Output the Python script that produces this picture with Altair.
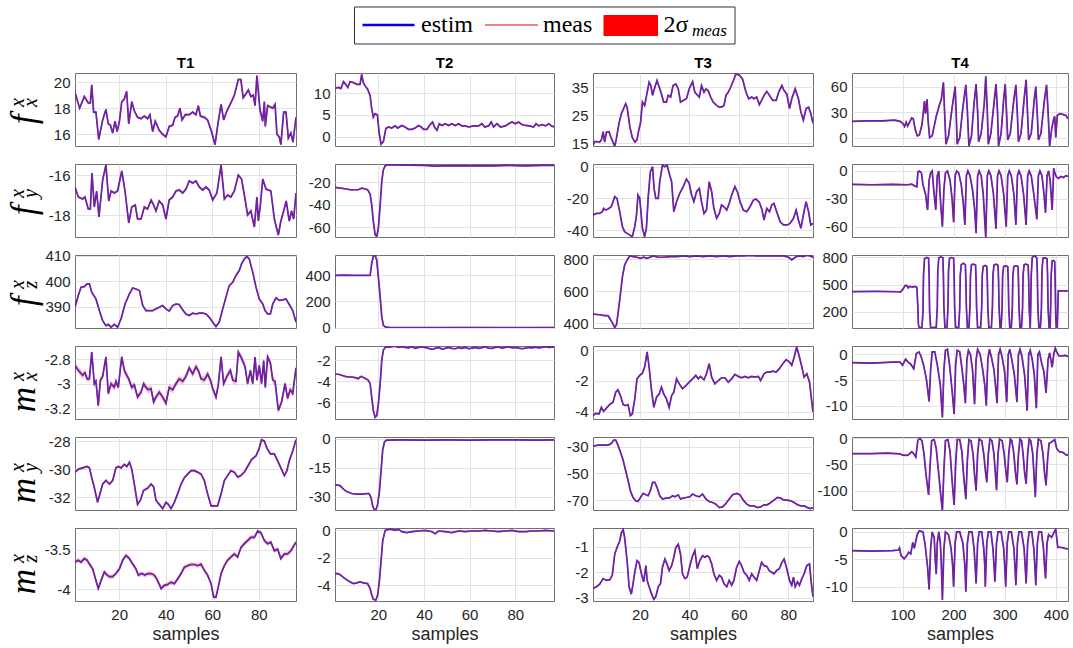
import altair as alt
import pandas as pd

TRIALS = ["T1", "T2", "T3", "T4"]
QUANTS = ["fx", "fy", "fz", "mx", "my", "mz"]

# ---------------- T1 ----------------
T1_FX = [(1,19.2),(3,18.0),(5,18.9),(6.7,18.4),(7.6,18.4),(8.2,19.8),(9,17.7),(10,17.7),(11.2,15.6),(12.9,17.1),(14.3,17.9),(15.3,16.8),(16.2,16.7),(17.2,16.1),(18.2,17.0),(19.1,16.2),(20.1,17.0),(21.1,18.5),(22.2,18.7),(23.2,19.3),(24.1,16.8),(25.4,18.5),(26.5,17.8),(27.9,17.3),(29.4,17.2),(30.8,17.4),(32.2,17.2),(33.2,17.5),(34.4,16.2),(35.5,17.0),(37.2,16.3),(38.7,16.0),(40.1,15.8),(41.5,16.6),(43,16.7),(44,17.3),(45.1,17.4),(46.1,18.0),(47,17.1),(48.4,17.5),(50.1,17.5),(51.6,17.7),(53,17.5),(54,18.2),(54.9,17.4),(56.6,17.3),(58,17.1),(59.5,16.3),(61.2,15.2),(62.6,17.0),(63.8,18.3),(64.9,17.1),(66.3,17.8),(68,18.4),(69.5,19.0),(71.2,20.2),(72.3,20.2),(73.3,18.8),(74.5,19.1),(75.5,19.4),(76.6,18.9),(77.6,19.0),(78.4,18.2),(79.2,20.5),(80.5,17.9),(81.7,17.0),(82.4,18.5),(82.8,16.6),(83.8,18.2),(86,18.0),(87,18.3),(87.8,16.0),(88.8,15.8),(89.5,15.2),(90.7,17.7),(91.7,17.7),(92.7,15.7),(93.8,16.1),(94.7,15.4),(96,17.3)]
T1_FY = [(1,-16.6),(2.4,-17.1),(4.3,-17.2),(5.3,-17.1),(6.7,-17.7),(7.6,-17.7),(8.3,-15.9),(9.3,-17.6),(10.3,-16.8),(11.3,-18.1),(12.9,-16.25),(14.3,-15.5),(15.5,-17.3),(16.5,-16.8),(17.9,-16.9),(19.3,-16.8),(21.1,-15.8),(22.5,-16.8),(24.1,-18.4),(25.4,-17.6),(26.9,-17.5),(27.9,-18.2),(29.4,-18.2),(30.8,-17.6),(32.2,-17.7),(33.7,-17.25),(34.8,-17.5),(35.8,-17.8),(37.2,-17.3),(38.7,-17.5),(40.1,-18.2),(41.5,-17.25),(43,-17.1),(44.4,-16.8),(45.8,-16.75),(47.3,-16.9),(48.7,-16.7),(50.1,-16.3),(51.6,-16.4),(53,-16.3),(54.4,-16.6),(55.9,-16.75),(57.3,-16.6),(58.7,-16.75),(60.2,-17.25),(62,-16.9),(63.8,-15.5),(65.2,-17.2),(66.6,-17.0),(68,-17.1),(69.5,-16.8),(71.2,-16.0),(72.6,-16.2),(73.8,-17.0),(75.2,-18.0),(76.6,-17.8),(78.1,-18.6),(79.2,-17.1),(79.8,-18.3),(80.7,-17.5),(81.7,-16.2),(83.1,-16.7),(85.2,-16.8),(86.7,-18.2),(88.4,-19.0),(89.5,-18.3),(90.7,-17.8),(91.8,-17.3),(93.1,-18.3),(94.1,-17.8),(95,-18.2),(96,-16.9)]
T1_FZ = [(1,389.7),(2.4,394.3),(3.6,397.6),(5,397.8),(6.2,398.9),(7.2,398.9),(8.2,395.6),(10,393.0),(11.5,388.4),(12.9,384.5),(14.3,382.5),(15.3,383),(16.5,381.9),(17.9,383),(19.3,381.9),(20.8,385.2),(22.5,391),(24.4,395),(25.8,397.3),(27.2,396.9),(28.7,396.3),(30.1,390.4),(31.5,388.4),(33,388.4),(34.4,388.4),(35.8,389.1),(37.2,389.7),(38.7,390.4),(40.1,389.1),(41.5,388.2),(43,390.4),(44.4,391),(45.8,390.8),(47.3,388.7),(48.7,387.1),(50.1,386.5),(51.6,387.4),(53,387.1),(54.4,387.4),(55.9,387.4),(57.3,387.1),(58.7,385.8),(60.2,383.9),(61.6,382.2),(63,383.9),(64.5,389.1),(65.9,393.7),(67.3,398.2),(68.8,399.5),(70.2,402.2),(71.6,404.1),(72.6,406.7),(73.8,408.7),(74.9,409.6),(75.9,408.7),(77.4,403.5),(78.8,397.6),(80.2,393),(81.7,391),(82.7,388.4),(83.8,387.1),(85,387.1),(86,391),(87.4,393.4),(88.8,392.4),(90.3,392.6),(91.7,393),(93.1,390.8),(94.6,388.4),(96,383.9)]
T1_MX = [(1,-2.85),(2.4,-2.89),(4.3,-2.93),(5.3,-2.91),(6.2,-2.96),(7.2,-2.96),(8.2,-2.74),(9.3,-3.0),(10,-2.98),(11,-3.18),(11.9,-2.97),(12.9,-2.94),(14.3,-2.78),(15.3,-3.08),(16.5,-3.0),(17.9,-3.03),(18.6,-2.98),(19.6,-3.03),(21.1,-2.78),(22.2,-2.89),(23.2,-2.93),(24.1,-2.96),(25.4,-3.03),(26.5,-3.01),(27.9,-3.11),(29.4,-3.07),(30.5,-3.0),(31.5,-3.03),(32.5,-3.05),(33.7,-3.04),(34.8,-3.15),(35.8,-3.11),(37.2,-3.07),(38.7,-3.11),(40.1,-3.16),(41.5,-3.03),(43,-3.05),(44.4,-3.0),(45.8,-2.96),(47.3,-2.98),(48.7,-2.94),(50.1,-2.87),(51.6,-2.92),(53,-2.86),(54,-2.89),(55.2,-2.96),(56.6,-2.97),(58,-2.92),(59.2,-2.97),(60.2,-3.04),(61.6,-3.11),(62.6,-3.01),(63.8,-2.78),(64.9,-3.0),(66.3,-2.94),(67.8,-2.89),(68.8,-2.97),(70.2,-2.98),(71.2,-2.74),(72.6,-2.79),(74.1,-2.86),(75.2,-3.0),(76.4,-2.89),(77.4,-3.0),(78.4,-2.78),(79.2,-2.97),(80.2,-2.85),(81.2,-3.0),(82.1,-2.81),(82.8,-3.03),(83.8,-2.78),(85,-2.83),(86,-2.97),(87,-2.98),(88.4,-3.22),(89.8,-3.15),(91.3,-3.0),(92.4,-3.12),(93.5,-3.05),(94.6,-3.08),(96,-2.87)]
T1_MY = [(1,-30.2),(2.4,-30.0),(4.3,-29.9),(6.2,-29.8),(7.2,-29.9),(8.2,-30.6),(9.3,-31.3),(10.7,-32.35),(11.9,-31.65),(12.9,-31.05),(14.3,-30.8),(15.8,-31.05),(17.2,-30.8),(18.6,-29.9),(19.6,-29.8),(20.8,-29.9),(22.2,-29.65),(23.3,-29.8),(24.4,-29.5),(25.4,-30.0),(26.5,-31.05),(27.9,-32.5),(29.1,-32.2),(30.5,-31.5),(32.2,-31.35),(33.7,-31.05),(34.8,-31.25),(35.8,-32.2),(37.2,-32.5),(38.7,-32.8),(40.1,-32.35),(41.1,-32.5),(42.3,-32.8),(43.7,-32.35),(45.1,-31.75),(46.6,-31.05),(48,-30.6),(49.4,-30.35),(50.9,-30.1),(52.3,-30.1),(53.7,-30.2),(55.2,-30.35),(56.6,-30.8),(58,-31.75),(59.5,-32.6),(60.9,-32.6),(62.3,-32.6),(63.8,-31.75),(65.2,-30.8),(66.6,-30.45),(68,-30.1),(69.5,-30.2),(70.9,-30.55),(72.3,-30.45),(73.8,-30.2),(75.2,-29.8),(76.9,-29.3),(78.8,-29.05),(80.2,-28.5),(81.2,-27.9),(82.4,-28.0),(83.5,-28.5),(85,-28.9),(86.7,-28.9),(88.1,-29.4),(89.5,-29.9),(91,-30.45),(92.1,-30.1),(93.1,-29.4),(94.6,-28.7),(96,-27.9)]
T1_MZ = [(1,-3.655),(2.4,-3.63),(3.6,-3.655),(5,-3.61),(6.2,-3.63),(7.2,-3.68),(8.6,-3.74),(10,-3.89),(11,-3.99),(12.2,-3.89),(13.6,-3.78),(14.8,-3.82),(15.8,-3.84),(17.2,-3.84),(18.6,-3.8),(20.1,-3.74),(21.5,-3.63),(22.9,-3.57),(24.4,-3.61),(25.8,-3.68),(27.2,-3.74),(28.2,-3.82),(29.7,-3.8),(31.1,-3.82),(32.2,-3.8),(33.7,-3.8),(35.1,-3.82),(36.5,-3.89),(38,-3.99),(39.4,-3.95),(40.8,-3.94),(42.3,-3.91),(43.7,-3.93),(45.1,-3.87),(46.6,-3.8),(48,-3.72),(49.4,-3.7),(50.9,-3.685),(52.3,-3.685),(53.7,-3.7),(55.2,-3.68),(56.6,-3.76),(58,-3.82),(59.5,-3.93),(60.6,-4.1),(61.6,-4.1),(62.6,-3.97),(63.8,-3.8),(65.2,-3.7),(66.6,-3.63),(68,-3.59),(69.5,-3.55),(70.9,-3.59),(72.3,-3.47),(73.8,-3.42),(75.2,-3.38),(76.6,-3.34),(78.1,-3.34),(79.5,-3.26),(80.9,-3.28),(82.4,-3.38),(83.8,-3.42),(85.2,-3.4),(86.7,-3.51),(88.1,-3.49),(89.5,-3.61),(91,-3.55),(92.4,-3.55),(93.8,-3.51),(96,-3.4)]

# ---------------- T2 ----------------
T2_FX = [(1,11.1),(2.5,11.3),(3.6,11.05),(4.7,12.6),(5.7,12.0),(6.6,11.3),(7.6,12.6),(9.1,12.4),(10.5,12.0),(12,12.0),(12.7,14.3),(13.4,12.4),(14.2,11.65),(15.3,10.9),(16.4,9.4),(17.1,6.4),(17.8,4.5),(18.6,5.3),(19.6,5.0),(20.3,1.1),(21.2,-1.7),(22.2,-1.1),(23.3,1.9),(24.4,2.25),(25.9,2.0),(27.4,2.5),(28.5,2.0),(30.3,2.6),(31.7,2.25),(33.2,1.7),(34.7,1.7),(36.1,2.0),(37.6,2.6),(38.8,2.25),(39.8,1.7),(41.3,1.7),(42.7,2.8),(43.8,3.4),(44.6,2.25),(45.7,1.5),(46.7,3.0),(47.9,2.6),(49.3,3.0),(50.8,2.6),(52.2,3.0),(53.7,2.6),(55.2,3.0),(56.6,2.5),(58.1,2.5),(59.6,2.25),(61.8,2.5),(64,2.5),(65.4,3.0),(66.6,2.25),(68.3,2.5),(69.5,3.4),(70.5,2.25),(72,3.0),(73.5,2.25),(75.7,2.5),(77.1,3.0),(78.6,3.4),(80.1,3.0),(81.5,3.4),(83,2.8),(84.5,2.6),(86.2,2.5),(88.1,2.25),(89.1,3.0),(90.3,2.5),(91.8,2.8),(93.2,2.5),(94.7,3.0),(95.9,2.5),(97,2.25)]
T2_FY = [(1,-24.4),(3.2,-25.0),(5.4,-25.6),(7.6,-26.5),(9.8,-26.5),(11.2,-26.5),(12.7,-25.0),(13.9,-25.6),(15.3,-26.5),(16.4,-30.4),(17.1,-40),(17.8,-54.7),(18.6,-66.5),(19.3,-68),(20,-60.6),(20.8,-40),(21.5,-19.1),(22.2,-8.7),(23,-5.2),(24.4,-4.3),(27.4,-4.3),(33.2,-4.6),(40.5,-4.9),(44.9,-5.5),(47.9,-5.2),(55.2,-5.2),(62.5,-5.2),(69.8,-5.2),(77.1,-4.9),(84.5,-5.2),(91.8,-4.9),(97,-4.9)]
T2_FZ = [(1,400),(5,401),(10,399),(14,400),(16.4,400),(17.1,490),(17.8,546),(18.6,553),(19.3,515),(20,388),(20.8,235),(21.5,82),(22.2,18),(23,5),(25,1),(40,0),(60,1),(80,0),(97,1)]
T2_MX = [(1,-3.34),(2.5,-3.34),(3.9,-3.44),(5.4,-3.54),(6.9,-3.6),(8.3,-3.6),(9.8,-3.66),(11.2,-3.76),(12,-3.6),(12.7,-3.54),(13.4,-3.66),(14.5,-3.76),(15.6,-3.92),(16.4,-4.24),(17.1,-5.52),(17.8,-6.8),(18.6,-7.44),(19.3,-7.28),(20,-6.16),(20.8,-4.24),(21.5,-2.0),(22.2,-1.04),(23.3,-0.72),(24.4,-0.78),(25.9,-0.72),(27.4,-0.66),(28.8,-0.78),(30.3,-0.72),(31.7,-0.78),(33.2,-0.82),(34.7,-0.72),(36.1,-0.88),(37.6,-0.78),(39.1,-0.72),(40.5,-0.78),(42,-0.88),(43.5,-0.98),(44.9,-0.88),(46.4,-0.78),(47.9,-0.94),(49.3,-0.88),(50.8,-0.78),(52.2,-0.88),(53.7,-0.91),(55.2,-0.82),(56.6,-0.88),(58.1,-0.78),(59.6,-0.91),(61,-0.85),(62.5,-0.78),(64,-0.88),(65.4,-0.82),(66.9,-0.72),(68.3,-0.85),(69.8,-0.88),(71.3,-0.78),(72.7,-0.75),(74.2,-0.85),(75.7,-0.78),(77.1,-0.72),(78.6,-0.82),(80.1,-0.78),(81.5,-0.85),(83,-0.91),(84.5,-0.85),(85.9,-0.78),(87.4,-0.82),(88.8,-0.75),(90.3,-0.82),(91.8,-0.78),(93.2,-0.72),(94.7,-0.78),(97,-0.75)]
T2_MY = [(1,-23.7),(3.2,-24.2),(4.7,-26),(6.1,-27.2),(8.3,-28.3),(10.5,-28.6),(12.7,-28.6),(14.9,-28.3),(15.9,-28.3),(16.8,-30.4),(17.5,-34.7),(18.3,-36.8),(19,-36.5),(19.7,-33.8),(20.5,-26.9),(21.2,-16.4),(21.9,-5.9),(22.7,-1.6),(23.7,-0.7),(30,-0.6),(40,-0.7),(50,-0.6),(60,-0.7),(70,-0.6),(80,-0.6),(90,-0.7),(97,-0.6)]
T2_MZ = [(1,-3.16),(2.5,-3.16),(3.6,-3.28),(5.4,-3.52),(7.6,-3.76),(9.1,-3.88),(10.5,-3.83),(12,-3.76),(13.4,-3.83),(15.3,-3.88),(16.4,-4.24),(17.1,-4.72),(17.8,-5.03),(18.9,-5.08),(19.7,-4.72),(20.5,-3.64),(21.2,-2.2),(21.9,-0.77),(23,0),(24.4,0.07),(25.9,0.07),(27.4,0),(28.8,0.07),(30.3,-0.1),(32.5,-0.17),(34.7,-0.1),(37.6,-0.05),(40.5,0),(43.5,-0.1),(44.9,-0.24),(46.4,-0.05),(49.3,-0.1),(52.2,-0.17),(55.2,-0.05),(58.1,-0.1),(61,-0.05),(64,-0.05),(66.9,0),(69.8,-0.05),(72.7,-0.1),(75.7,-0.05),(78.6,0),(81.5,-0.1),(84.5,-0.1),(87.4,-0.05),(90.3,-0.05),(93.2,0),(97,-0.05)]

# ---------------- T3 ----------------
T3_FX = [(1,14.2),(1.7,15.6),(2.6,15.6),(3.7,15.4),(4.4,16.2),(5.1,19.1),(5.7,15.4),(6.4,18.9),(7.5,19.1),(8.4,16.8),(9.1,15.4),(9.8,13.8),(10.5,16.8),(11.5,22.1),(12.5,25.6),(13.4,27.4),(14.2,29.1),(14.8,27.9),(15.9,20.9),(16.9,17.0),(18,15.4),(18.8,16.2),(19.6,20.1),(20.2,22.1),(21,29.7),(21.9,28.5),(22.9,33.2),(23.7,36.8),(24.4,35.6),(25.1,32.1),(26,35),(26.9,37.4),(27.8,35),(28.7,32.6),(29.6,29.7),(30.7,29.7),(31.4,32.1),(32.4,31.5),(33.4,35.6),(34.5,36.2),(35.5,34.4),(36.4,29.7),(37.5,30.3),(38.8,30.9),(39.9,34.4),(41.3,37),(42.2,33.2),(43.2,32.3),(44,31.5),(44.9,35.6),(45.9,33.2),(46.7,34.4),(47.6,33.8),(48.6,31.5),(49.6,29.7),(51,28.5),(52.1,27.9),(53,27.9),(54,28.5),(54.8,32.1),(55.7,33.2),(56.7,35),(57.8,37.4),(58.8,39.7),(60.2,39.4),(61.5,37.9),(62.9,33.2),(64,30.9),(65.2,31.5),(66.1,30.9),(67.2,31.5),(68.3,28.8),(69.2,30.3),(70.2,32.1),(71.3,33.5),(72.4,32.1),(73.7,30.3),(75.1,30.3),(76.1,33.2),(77.4,35.6),(78.3,33.8),(79.4,32.6),(80.5,27.4),(81.4,30.9),(82.8,34.4),(84.1,30.9),(85.1,26.2),(86.1,23.2),(87.2,27.4),(88.2,27.9),(89.1,25.6),(90,22.1)]
T3_FY = [(1,-30.5),(2.4,-29.5),(3.7,-29.5),(4.8,-28.4),(5.3,-26.3),(6.1,-27.4),(7.1,-26.7),(8.4,-25.3),(9.8,-18.9),(10.7,-20),(11.8,-28.4),(12.9,-37.9),(13.8,-41),(14.8,-42.1),(15.9,-43.2),(16.9,-44.2),(17.9,-37.9),(18.6,-30.5),(19.2,-17.9),(19.9,-20),(21,-38.9),(21.9,-44.2),(22.6,-38.9),(23.3,-20),(24.2,-3.2),(25.1,0),(25.7,-13.7),(26.4,-20),(27.4,-20),(28,-9.5),(29.1,1.0),(30.1,0),(31,1.0),(31.8,-4.2),(32.8,-9.5),(33.7,-28.4),(34.8,-22.1),(36.1,-16.8),(37.5,-12.6),(38.8,-7.8),(39.9,-10.5),(40.9,-17.9),(41.8,-22.1),(42.9,-15.8),(44,-13.7),(44.9,-22.1),(45.9,-29.5),(46.9,-27.4),(48,-9.5),(49,-15.8),(49.9,-26.3),(51,-32.6),(52.1,-29.5),(53,-24.2),(54,-25.3),(55.1,-27.4),(56.1,-23.2),(57.1,-17.9),(58.4,-12.6),(59.4,-15.8),(60.5,-22.1),(61.8,-27.4),(63.2,-28.4),(64.5,-25.3),(65.9,-21.1),(66.9,-20.4),(68.3,-22.5),(69.4,-27.4),(70.2,-33.7),(71.3,-26.3),(72.4,-28.4),(73.3,-24.2),(74.2,-23.2),(75.3,-28.4),(76.7,-34.7),(78,-36.8),(79.6,-36.8),(80.7,-35.8),(82.1,-32.6),(83.2,-27.4),(84.1,-33.7),(85.1,-38.9),(86.1,-30.5),(87.2,-22.1),(88.2,-28.4),(89.1,-36.8),(90,-35.8)]
T3_FZ = [(1,457),(3.7,453),(5.7,447),(7.1,447),(8,425),(9.1,394),(9.8,373),(10.5,390),(11.1,457),(12.1,584),(12.9,690),(13.8,764),(14.8,796),(15.9,821),(17.2,817),(18.8,813),(20.2,806),(21.5,813),(22.9,806),(24,813),(25.3,821),(27.4,813),(29.4,813),(32.1,817),(34.8,817),(37.5,821),(40.2,817),(42.9,821),(45.6,817),(48.3,821),(51,817),(53.7,821),(56.4,817),(59.1,821),(61.8,821),(64.5,825),(67.2,821),(69.9,821),(72.6,821),(75.3,821),(78,821),(80.1,813),(81.4,796),(82.8,813),(84.1,821),(86.1,817),(87.5,825),(88.8,821),(90,813)]
T3_MX = [(1,-4.26),(2.1,-4.11),(3.4,-4.15),(4.4,-3.72),(5.3,-3.98),(6.7,-3.72),(8,-3.5),(9.1,-3.39),(10.2,-2.73),(11.1,-2.58),(12.1,-2.95),(13.2,-3.54),(14.2,-3.61),(15.2,-3.54),(16.1,-4.26),(16.9,-4.15),(17.9,-3.17),(18.8,-1.86),(19.9,-1.64),(21,-1.49),(21.9,-1.09),(22.9,-0.11),(23.7,-1.09),(24.6,-2.51),(25.6,-3.72),(26.7,-3.06),(27.8,-2.84),(28.7,-2.4),(29.6,-2.84),(30.7,-3.17),(31.8,-3.72),(32.8,-2.95),(33.7,-2.73),(34.8,-1.86),(35.9,-2.19),(37.2,-2.51),(38.6,-2.3),(39.9,-2.08),(41.3,-1.86),(42.6,-1.64),(43.6,-1.86),(44.5,-1.7),(45.9,-1.92),(46.9,-1.53),(48,-0.87),(49,-1.75),(50.3,-2.19),(51.7,-1.97),(53,-1.79),(54.4,-1.79),(55.7,-2.08),(57.1,-1.86),(58.4,-1.57),(59.8,-1.7),(61.1,-1.79),(62.5,-1.7),(63.8,-1.79),(65.2,-1.7),(66.5,-1.75),(67.9,-1.7),(68.8,-1.97),(70.2,-1.53),(71.3,-1.42),(72.6,-1.42),(73.7,-1.36),(75.1,-1.42),(76.4,-1.2),(77.8,-0.87),(79.1,-0.61),(80.5,-0.77),(81.4,-0.98),(82.4,-0.44),(83.4,0.22),(84.5,-0.44),(85.5,-1.09),(86.4,-1.75),(87.5,-1.53),(88.6,-2.08),(90,-4.04)]
T3_MY = [(1,-29.5),(3,-28.7),(5.1,-28.7),(7.1,-28.7),(8.4,-27.5),(9.4,-24.9),(10.2,-24.9),(11.1,-28.7),(12.1,-33.8),(13.2,-40.1),(14.2,-47.7),(15.2,-55.3),(16.1,-62.9),(17.2,-68),(18.3,-70.5),(19.2,-71),(20.2,-68),(21.3,-64.9),(22.4,-66),(23.3,-66.7),(24.2,-62.9),(25.1,-56.6),(26,-56.6),(26.9,-60.4),(28,-66.7),(29.1,-69.2),(30.5,-68.5),(31.8,-68.5),(33.2,-66.7),(34.1,-67.5),(35.5,-66),(36.4,-69.2),(37.5,-68.5),(38.8,-68),(40.2,-67.5),(41.3,-65.4),(42.6,-66.7),(44,-67.5),(45.3,-65.4),(46.7,-69.2),(48,-71),(49.4,-71.8),(50.7,-73),(52.1,-75.6),(53.4,-75.1),(54.8,-72.5),(56.1,-69.2),(57.5,-66),(59.1,-64.9),(60.5,-66),(61.8,-70),(63.2,-73),(64.5,-74.3),(66.1,-74.3),(67.5,-75.6),(68.8,-75.1),(70.2,-73.5),(71.5,-73.5),(72.9,-71.8),(74.2,-70),(75.6,-68),(76.9,-68.5),(78.3,-70),(79.6,-70),(81,-70.5),(82.4,-71.8),(83.7,-73.5),(85.1,-74.3),(86.4,-74.3),(87.8,-75.6),(89.1,-76.3),(90,-75.6)]
T3_MZ = [(1,-2.64),(2.4,-2.57),(3.7,-2.47),(5.1,-2.25),(6.4,-2.32),(7.8,-2.29),(8.8,-2.12),(9.8,-1.28),(10.7,-1.03),(11.8,-0.77),(12.5,-0.45),(13.2,-0.32),(13.8,-0.64),(14.8,-1.54),(15.6,-2.57),(16.5,-2.86),(17.2,-2.45),(17.9,-2.0),(18.8,-1.54),(19.6,-1.61),(20.6,-2.06),(21.5,-2.38),(22.4,-1.74),(22.9,-2.32),(23.7,-2.57),(24.6,-2.83),(25.6,-3.06),(26.4,-2.96),(27.4,-2.57),(28.3,-2.45),(29.1,-1.8),(30.1,-1.48),(31,-1.7),(31.8,-1.93),(32.8,-1.74),(33.7,-1.41),(34.5,-1.03),(35.5,-0.9),(36.4,-1.28),(37.2,-2.06),(38.2,-2.25),(39.1,-2.19),(40.2,-1.74),(41.3,-1.35),(42.2,-1.15),(43.2,-1.86),(44.2,-1.54),(45.3,-1.35),(46.3,-1.41),(47.2,-1.35),(48,-1.41),(49,-1.67),(49.9,-2.06),(51,-2.32),(52.1,-2.12),(53,-2.19),(54,-2.45),(55.1,-2.57),(56.1,-2.32),(57.1,-2.51),(58,-2.32),(59.1,-1.8),(60.2,-1.57),(61.1,-1.74),(62.1,-2.0),(63.2,-2.12),(64.2,-2.32),(65.2,-2.06),(66.1,-2.19),(67.2,-2.32),(68.3,-1.93),(69.2,-1.61),(70.2,-1.74),(71.3,-1.77),(72.4,-1.95),(73.3,-2.0),(74.2,-2.06),(75.3,-1.93),(76.4,-1.86),(77.4,-1.61),(78.3,-1.48),(79.4,-1.86),(80.5,-2.32),(81.4,-2.51),(82.1,-2.19),(82.8,-2.57),(83.7,-2.38),(84.5,-2.51),(85.5,-2.25),(86.4,-2.06),(87.5,-1.74),(88.6,-1.67),(89.2,-2.32),(90,-2.96)]

# ---------------- T4 ----------------
T4_FX = [(1,19),(30,19.5),(60,19.5),(85,20.5),(95,19),(100,17),(104,13),(107,18),(110,13.5),(114,18.5),(118,23),(121,22),(125,9),(129,2),(133,3),(138,15),(143,43),(145,28),(148,45),(150,20),(153,0),(158,2),(166,25),(172,38),(176,45),(180,65),(183,20),(185,-8),(190,2),(197,35),(203,60),(205,30),(207,-8),(212,0),(218,35),(224,62),(227,30),(230,-10),(235,2),(240,40),(244,63),(247,30),(249,-5),(254,5),(260,40),(263,72),(266,30),(268,-8),(273,5),(279,40),(283,63),(286,30),(288,-10),(293,5),(298,45),(301,63),(304,25),(306,-3),(311,5),(318,45),(322,62),(325,25),(327,-5),(332,5),(338,45),(342,68),(345,25),(347,-3),(352,5),(358,45),(361,60),(364,25),(366,-3),(371,5),(378,45),(382,62),(385,30),(388,-10),(392,10),(396,22),(398,25),(400,0),(403,26),(408,28),(415,27),(420,26),(424,22)]
T4_FY = [(1,-14.5),(40,-14.8),(80,-14.5),(110,-14.8),(118,-14.2),(125,-16.5),(128,-17),(130,-1),(133,0),(137,-2),(140,-15),(145,-25),(149,-42),(152,-10),(155,-2),(158,0),(161,-20),(165,-42),(168,-5),(171,0),(174,-30),(178,-60),(181,-20),(184,-2),(188,0),(193,-10),(197,-30),(200,-55),(203,-5),(206,0),(210,-2),(215,-15),(219,-35),(222,-58),(225,-5),(228,0),(232,-5),(237,-20),(241,-40),(244,-67),(247,-5),(250,0),(254,-5),(258,-25),(263,-72),(266,-5),(269,0),(273,-5),(278,-25),(283,-62),(286,-5),(289,0),(293,-5),(298,-25),(303,-60),(306,-5),(309,0),(313,-5),(318,-25),(322,-58),(325,-5),(328,0),(332,-5),(337,-25),(342,-58),(345,-5),(348,0),(352,-5),(357,-25),(363,-52),(366,-5),(369,0),(373,-5),(377,-25),(380,-45),(383,-5),(386,0),(389,-10),(393,-42),(396,3),(398,-2),(401,-6),(405,-8),(410,-6),(415,-7),(420,-5),(424,-6)]
T4_FZ = [(1,423),(50,424),(92,421),(96,418),(101,452),(105,488),(108,490),(111,464),(114,480),(120,472),(124,480),(128,470),(130,250),(131,60),(133,22),(138,30),(140,200),(141,600),(143,785),(147,800),(151,790),(152,600),(153,200),(155,22),(166,30),(168,250),(169,650),(171,795),(175,805),(179,795),(180,600),(181,250),(183,22),(187,30),(189,250),(190,650),(192,790),(196,798),(200,790),(201,600),(202,250),(204,22),(210,30),(212,250),(213,600),(215,720),(219,735),(223,720),(224,550),(225,250),(227,22),(230,30),(232,250),(233,600),(235,720),(239,725),(243,715),(244,550),(245,250),(247,22),(253,30),(255,250),(256,600),(258,700),(262,710),(265,700),(266,550),(267,250),(269,22),(274,30),(276,250),(277,600),(279,715),(283,725),(287,712),(288,550),(289,250),(291,22),(293,30),(295,250),(296,600),(298,700),(302,705),(306,698),(307,550),(308,250),(310,22),(313,30),(315,250),(316,600),(318,700),(322,705),(326,700),(327,550),(328,250),(330,22),(333,30),(335,250),(336,600),(338,720),(342,725),(346,715),(347,550),(348,250),(350,22),(351,250),(352,600),(354,800),(359,820),(363,790),(364,600),(365,250),(367,22),(370,30),(372,250),(373,650),(375,790),(379,795),(383,785),(384,600),(385,250),(387,22),(389,30),(390,250),(391,600),(393,760),(396,765),(398,750),(399,500),(400,150),(401,22),(403,25),(405,430),(412,432),(418,428),(424,432)]
T4_MX = [(1,-1.6),(40,-1.7),(80,-1.5),(95,-1.5),(100,-2.1),(106,-0.9),(110,-1.4),(116,-1.9),(122,-2.8),(127,0.2),(132,0.5),(136,-0.3),(141,-2),(147,-5),(152,-9.2),(155,-3),(158,0.5),(163,0.5),(168,-2),(174,-6),(178,-12.3),(181,-3),(184,0.8),(188,1),(192,-2),(197,-7),(201,-11.6),(204,-2),(207,0.8),(212,0.5),(216,-2.5),(220,-6),(223,-9.5),(226,-1),(229,0.8),(233,0),(237,-3),(241,-9.7),(244,-1),(247,1),(252,0),(257,-3),(261,-6),(264,-10),(267,-1),(270,1),(274,-0.5),(279,-3),(282,-6),(285,-9.5),(288,0),(291,1),(295,-0.5),(300,-3.5),(304,-9.3),(307,0),(310,1),(314,-1),(319,-4),(324,-9.3),(327,0),(330,1),(334,-0.5),(339,-4),(344,-11),(347,0),(350,0.8),(354,-1),(358,-4),(362,-10.5),(365,0),(368,0.5),(372,-1.5),(377,-3.5),(381,-7.5),(385,-1),(388,0.3),(393,-2.5),(396,0),(399,1.2),(402,0.5),(406,-0.3),(412,-0.3),(418,-0.2),(424,-0.4)]
T4_MY = [(1,-29.5),(40,-29.5),(70,-28.5),(95,-30),(100,-32.5),(110,-33),(118,-26),(122,-30),(126,-36),(130,-4),(134,-1),(138,-5),(142,-30),(146,-70),(151,-108),(154,-50),(157,-5),(162,-3),(166,-20),(171,-70),(175,-110),(178,-138),(181,-60),(184,-5),(189,-3),(193,-25),(197,-80),(201,-127),(204,-50),(207,-3),(212,-3),(216,-25),(220,-75),(224,-116),(227,-40),(230,-3),(234,-5),(238,-30),(241,-70),(244,-100),(247,-30),(250,-2),(255,-5),(259,-30),(262,-60),(265,-84),(268,-30),(271,-2),(275,-5),(279,-30),(282,-70),(284,-99),(287,-30),(290,-2),(295,-5),(299,-30),(302,-60),(305,-84),(308,-30),(311,-2),(314,-5),(318,-30),(321,-65),(324,-88),(327,-30),(330,-2),(333,-5),(336,-30),(339,-65),(342,-87),(345,-30),(348,-2),(351,-5),(355,-30),(358,-80),(360,-112),(363,-30),(366,-2),(371,-5),(375,-30),(378,-65),(381,-90),(384,-40),(387,-10),(391,-8),(395,-5),(398,-3),(402,-20),(407,-26),(414,-27),(420,-32),(424,-32)]
T4_MZ = [(1,-3.4),(40,-3.5),(80,-3.4),(92,-3.3),(94,-2.9),(97,-4.3),(103,-4.9),(107,-4.5),(112,-3.7),(116,-4),(120,-1.9),(123,-3),(126,-1.6),(129,-0.4),(133,0.2),(140,0),(144,-2.2),(149,-6.4),(152,-10.5),(155,-3),(158,0),(162,-1),(164,-5),(166,-7.7),(168,-2),(171,0),(174,-2),(176,-6),(178,-12.4),(181,-3),(184,0),(190,-0.5),(195,-3),(198,-6),(200,-10),(203,-2),(206,0),(212,0),(218,-2),(222,-6),(224,-10.9),(227,-2),(230,0),(236,0),(240,-3),(242,-6),(244,-9.4),(247,-2),(250,0),(255,0),(259,-3),(261,-6),(262,-10),(265,-2),(268,0),(273,0),(277,-3),(279,-6),(281,-9.1),(284,-2),(287,0),(293,0),(298,-3),(300,-6),(302,-10),(305,-2),(308,0),(313,0),(318,-3),(320,-6),(322,-9.7),(325,-2),(328,0),(333,0),(338,-3),(340,-6),(342,-9.4),(345,-2),(348,0),(353,0),(357,-3),(359,-6),(361,-9.7),(364,-2),(367,0),(372,0),(376,-3),(378,-6),(380,-8.5),(383,-2),(386,-0.5),(392,-1),(397,0),(400,0.5),(404,-2.8),(410,-2.8),(418,-3),(424,-3.1)]

SERIES = {
    "T1": [T1_FX, T1_FY, T1_FZ, T1_MX, T1_MY, T1_MZ],
    "T2": [T2_FX, T2_FY, T2_FZ, T2_MX, T2_MY, T2_MZ],
    "T3": [T3_FX, T3_FY, T3_FZ, T3_MX, T3_MY, T3_MZ],
    "T4": [T4_FX, T4_FY, T4_FZ, T4_MX, T4_MY, T4_MZ],
}

X_DOMAINS = {"T1": [1, 96], "T2": [1, 97], "T3": [1, 90], "T4": [1, 424]}
X_TICKS = {"T1": [20, 40, 60, 80], "T2": [20, 40, 60, 80], "T3": [20, 40, 60, 80], "T4": [100, 200, 300, 400]}

Y_DOMAINS = {
    "T1": [[15.1, 20.7], [-19.1, -15.45], [381.6, 410.2], [-3.29, -2.69], [-32.9, -27.7], [-4.15, -3.22]],
    "T2": [[-2.1, 14.6], [-68.5, -3.6], [-3, 555], [-7.6, -0.65], [-36.8, 0.9], [-5.15, 0.17]],
    "T3": [[14, 40.1], [-44.4, 1.7], [370, 827], [-4.48, 0.28], [-77.4, -22.6], [-3.13, -0.26]],
    "T4": [[-10, 76], [-71, 7.5], [21, 826], [-12.6, 1.65], [-136.5, 2], [-12.6, 0.72]],
}
Y_TICKS = {
    "T1": [[16, 18, 20], [-18, -16], [390, 400, 410], [-3.2, -3, -2.8], [-32, -30, -28], [-4, -3.5]],
    "T2": [[0, 5, 10], [-60, -40, -20], [0, 200, 400], [-6, -4, -2], [-30, -15, 0], [-4, -2, 0]],
    "T3": [[15, 25, 35], [-40, -20, 0], [400, 600, 800], [-4, -2, 0], [-70, -50, -30], [-3, -2, -1]],
    "T4": [[0, 30, 60], [-60, -30, 0], [200, 500, 800], [-10, -5, 0], [-100, -50, 0], [-10, -5, 0]],
}
SIGMA = {
    "T1": [0.12, 0.08, 0.35, 0.03, 0.1, 0.03],
    "T2": [0.2, 0.6, 3, 0.07, 0.3, 0.05],
    "T3": [0.25, 0.4, 4, 0.05, 0.4, 0.035],
    "T4": [0.8, 0.8, 5, 0.12, 1.2, 0.12],
}
LABEL_MAIN = ["f", "f", "f", "m", "m", "m"]
LABEL_SUB = ["x", "y", "z", "x", "y", "z"]

WIDTHS = [221, 219, 220, 216]
HEIGHT = 73

SANS = "Liberation Sans"
SERIF = "Liberation Serif"
TXT = "#262626"
GRID = "#e3e3e3"
BLUE = "#3020d8"
RED = "#e2203c"


def value_text(txt, x, y, size, italic=False, align="center", baseline="alphabetic", angle=0,
               font=SERIF, bold=False):
    kw = dict(text=txt, fontSize=size, font=font, align=align, baseline=baseline, color="#000")
    if italic:
        kw["fontStyle"] = "italic"
    if bold:
        kw["fontWeight"] = "bold"
    if angle:
        kw["angle"] = angle
    return alt.Chart(pd.DataFrame({"k": [0]})).mark_text(**kw).encode(x=alt.value(x), y=alt.value(y))


def ylabel_layers(ri):
    mid = HEIGHT / 2
    is_m = LABEL_MAIN[ri] == "m"
    main_y = mid + (17 if is_m else 10)
    scr_y = mid - (6 if is_m else 7)
    return [
        value_text(LABEL_MAIN[ri], -40, main_y, 35, italic=True, angle=270),
        value_text("x", -51, scr_y, 20, italic=True, angle=270),
        value_text(LABEL_SUB[ri], -38, scr_y, 20, italic=True, angle=270),
    ]


def anchor_layer():
    # white corner patch fixing the top-left of the drawing at the page corner
    d = pd.DataFrame({"k": [0]})
    return alt.Chart(d).mark_rect(fill="white").encode(
        x=alt.value(-74), x2=alt.value(-72), y=alt.value(-72), y2=alt.value(-70))


def legend_layers():
    d = pd.DataFrame({"k": [0]})
    box = alt.Chart(d).mark_rect(fill="white", stroke="#333333", strokeWidth=1).encode(
        x=alt.value(19.5), x2=alt.value(400), y=alt.value(-66), y2=alt.value(-29))
    bl = alt.Chart(d).mark_rule(color="#0000ee", strokeWidth=2.6).encode(
        x=alt.value(27.5), x2=alt.value(79.5), y=alt.value(-48))
    rl = alt.Chart(d).mark_rule(color="#ee0000", strokeWidth=1).encode(
        x=alt.value(150), x2=alt.value(203), y=alt.value(-48))
    rr = alt.Chart(d).mark_rect(fill="#ff0000").encode(
        x=alt.value(268.5), x2=alt.value(323), y=alt.value(-58), y2=alt.value(-37))
    return [
        box, bl,
        value_text("estim", 86, -41, 24, align="left"),
        rl,
        value_text("meas", 208, -41, 24, align="left"),
        rr,
        value_text("2σ", 328.5, -41, 24, align="left"),
        value_text("meas", 357, -37, 17, italic=True, align="left"),
    ]


def panel(ci, ri):
    t = TRIALS[ci]
    pts = SERIES[t][ri]
    df = pd.DataFrame(pts, columns=["s", "v"])
    sig = SIGMA[t][ri]
    df["lo"] = df["v"] - sig
    df["hi"] = df["v"] + sig
    last = ri == 5
    xs = alt.Scale(domain=X_DOMAINS[t], nice=False, zero=False)
    ys = alt.Scale(domain=Y_DOMAINS[t][ri], nice=False, zero=False)
    if last:
        xaxis = alt.Axis(values=X_TICKS[t], grid=True, gridColor=GRID, domain=False, ticks=False,
                         labels=True, labelFont=SANS, labelFontSize=15, labelColor=TXT, labelPadding=6,
                         title="samples", titleFont=SANS, titleFontSize=18, titleFontWeight="normal",
                         titleColor=TXT, titlePadding=3, labelFlush=False)
    else:
        xaxis = alt.Axis(values=X_TICKS[t], grid=True, gridColor=GRID, domain=False, ticks=False,
                         labels=False, title=None)
    yaxis = alt.Axis(values=Y_TICKS[t][ri], grid=True, gridColor=GRID, domain=False, ticks=False,
                     labelFont=SANS, labelFontSize=15, labelColor=TXT, labelPadding=5, title=None,
                     labelExpr="datum.value + ''", labelFlush=False)
    base = alt.Chart(df)
    band = base.mark_area(color="#f04060", opacity=0.3, clip=True).encode(
        x=alt.X("s:Q", scale=xs, axis=xaxis),
        y=alt.Y("lo:Q", scale=ys, axis=yaxis),
        y2="hi:Q",
    )
    estim = base.mark_line(color=BLUE, strokeWidth=1.7, clip=True).encode(
        x=alt.X("s:Q", scale=xs, axis=xaxis),
        y=alt.Y("v:Q", scale=ys, axis=yaxis),
    )
    meas = base.mark_line(color=RED, strokeWidth=1.3, opacity=0.45, clip=True).encode(
        x=alt.X("s:Q", scale=xs, axis=xaxis),
        y=alt.Y("v:Q", scale=ys, axis=yaxis),
    )
    layers = [band, estim, meas]
    if ci == 0:
        layers += ylabel_layers(ri)
    if ri == 0:
        layers.append(value_text(t, WIDTHS[ci] / 2, -5, 15, font=SANS, bold=True))
    if ri == 0 and ci == 0:
        layers.append(anchor_layer())
    if ri == 0 and ci == 1:
        layers += legend_layers()
    return alt.layer(*layers).properties(width=WIDTHS[ci], height=HEIGHT)


panels = [panel(ci, ri) for ri in range(6) for ci in range(4)]

chart = alt.concat(
    *panels, columns=4, spacing={"row": 18, "column": 39}, bounds="flush"
).properties(
    padding=0,
).configure_view(stroke="#707070", strokeWidth=1)

chart.save("out.html", embed_options={"renderer": "svg", "actions": False})
